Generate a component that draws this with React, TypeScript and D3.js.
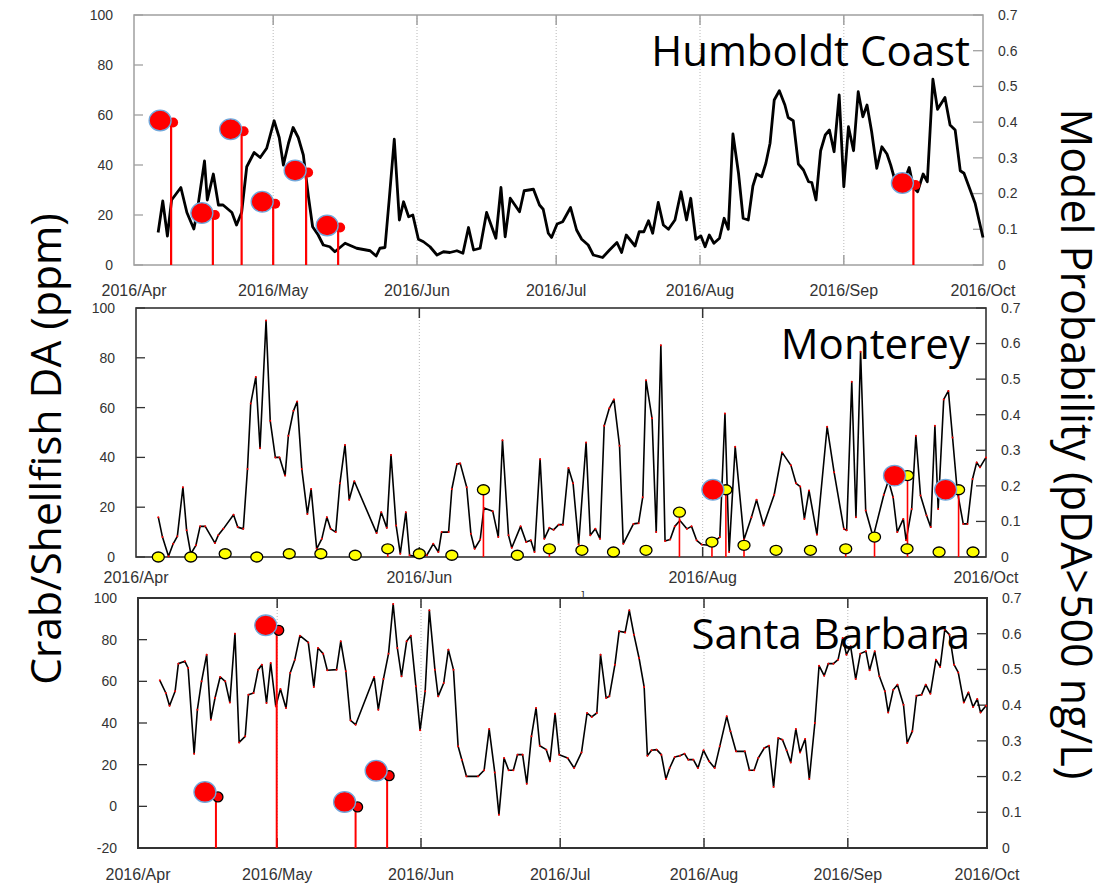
import React from 'react';
import * as d3 from 'd3';

// day offsets are counted from 2016/Apr/01, values in ppm (left axis)
const START = new Date(2016, 3, 1);
const END = new Date(2016, 9, 1);

const MONTH_LABELS = ['2016/Apr', '2016/May', '2016/Jun', '2016/Jul', '2016/Aug', '2016/Sep', '2016/Oct'];
const DA_TICKS = [0, 20, 40, 60, 80, 100];
const DA_TICKS_SB = [-20, 0, 20, 40, 60, 80, 100];
const PROB_TICKS = [0, 0.1, 0.2, 0.3, 0.4, 0.5, 0.6, 0.7];

type Pt = [number, number];

const humboldtLine: Pt[] = [
  [5.2, 13], [6.2, 25.6], [7.2, 11.6], [8.1, 26], [10.1, 31], [11.4, 21], [12.9, 14.4], [13.5, 20],
  [15.2, 41.6], [15.8, 26], [17.1, 36.4], [18.2, 24], [19.2, 24], [21.1, 21], [22.1, 16], [23.2, 21],
  [24.3, 39.3], [25.9, 45], [27.2, 43], [28.6, 46.7], [30.2, 57.7], [31.3, 51], [32.2, 40], [33.3, 48.7],
  [34.3, 55], [35.4, 51], [36.5, 44], [37.6, 27.3], [38.5, 15.3], [39.7, 12], [40.8, 8], [42.2, 7.3],
  [43.3, 5.3], [45.5, 8.7], [48, 6.7], [50.9, 5.7], [52.2, 3.6], [53, 6.7], [54.1, 7], [55, 26],
  [56.1, 50.3], [57.2, 18], [58.1, 25.3], [59.2, 19.3], [60.1, 20], [61.3, 10.3], [62.4, 9.3], [63.8, 7.3],
  [65.3, 4], [66.7, 5.3], [68.1, 5], [69.6, 5.7], [70.9, 4.7], [72.1, 15], [73.2, 6], [74.6, 6.7],
  [76, 21], [78, 10.7], [79.1, 31], [80, 11.3], [81.1, 26.7], [83.1, 21.3], [84.1, 29.7], [86.1, 30.3],
  [87.4, 24], [88.2, 22.3], [89.3, 12.7], [90, 11], [91.2, 16.4], [92.4, 17.3], [94.1, 23], [95.4, 14],
  [96.5, 10.3], [97.9, 8], [99, 4], [101, 3], [102.5, 6], [104.1, 9], [105.1, 5], [106.1, 12],
  [108, 7.6], [108.9, 13.3], [109.9, 13.3], [110.9, 17.7], [111.8, 12.7], [113, 25], [114.1, 16], [115.2, 14.3],
  [116.6, 18], [117.9, 29.3], [119.1, 18], [120, 26.7], [121.1, 10.3], [122.2, 11.6], [123.1, 7.3], [124, 12],
  [125, 8.7], [126.2, 10.7], [127.2, 18.7], [128.1, 14.3], [129.1, 52.4], [130.3, 36.7], [131.3, 18.7], [132.4, 18],
  [133.4, 31.6], [134.2, 36.4], [135.3, 35.3], [136.2, 40.7], [137.1, 48.7], [138, 66], [139.1, 69.7], [140.3, 64],
  [141, 59], [142.1, 57.7], [143.2, 40.4], [144.3, 38], [145.4, 33.3], [146.1, 33], [147, 26], [148, 45.7],
  [149, 52], [149.9, 54], [150.9, 45.3], [152, 68], [153, 31.3], [154, 55.3], [155.1, 45.7], [156.1, 69.3],
  [157.1, 59.3], [158, 64], [159, 53.3], [160.1, 38.7], [161.2, 47.3], [162.3, 44.4], [163.1, 40], [164, 34],
  [165.5, 31], [167.1, 39], [168, 31], [168.9, 29.3], [170.1, 36.4], [171, 33.3], [172.2, 74.3], [173.2, 62.3],
  [174.8, 67], [175.9, 56], [177, 54], [178.1, 37.7], [178.9, 36.7], [181.3, 24.7], [183, 11],
];
const humboldtSamples: Pt[] = [
  [8.0, 57], [17.0, 20], [23.2, 53.5], [30.0, 24.5], [37.1, 37], [44.0, 15], [168.0, 32],
];

const montereyLine: Pt[] = [
  [4.8, 16], [5.7, 8], [7, 0.3], [8, 5.3], [8.9, 8.3], [10.1, 28], [10.9, 10.7], [11.8, 1.3],
  [12.9, 4.7], [13.8, 12.3], [14.9, 12.3], [17, 5.6], [17.7, 8.7], [18.8, 11.3], [21, 17], [21.9, 12],
  [23.1, 11.3], [24, 35.3], [24.7, 61.6], [25.8, 72.3], [26.7, 43.7], [28, 95], [28.9, 54.7], [30, 40],
  [30.9, 40], [32.1, 32.7], [32.8, 48.7], [33.9, 58.7], [34.7, 62.4], [35.7, 35.3], [36.9, 17.3], [37.7, 27.3],
  [38.9, 3.3], [40, 7.3], [41.1, 16], [41.9, 11.3], [43, 10], [43.9, 29.6], [45, 45], [45.9, 23],
  [47, 30.4], [51.8, 9.6], [52.8, 18], [54, 11.7], [54.9, 41], [56, 12.7], [56.9, 1.3], [58.1, 18],
  [58.9, 0.7], [60.1, 0.3], [62.6, 0.7], [64, 5.3], [65.1, 2], [65.8, 10], [67.3, 10], [68, 27.3],
  [69.1, 37.3], [69.8, 37.6], [71.2, 28], [72.1, 9.3], [72.9, 3.3], [74.1, 7], [74.9, 19.7], [76.8, 18.4],
  [78, 8], [78.9, 46.9], [80.2, 8.7], [80.9, 3.7], [82.8, 12.3], [84, 6], [85, 6.7], [85.8, 2],
  [87, 39.3], [87.9, 7.3], [89, 11.7], [89.9, 10.9], [91, 13], [91.9, 13], [93.1, 35.7], [94.1, 29.6],
  [95.3, 5], [96.9, 46], [97.8, 8.7], [98.9, 11.3], [99.9, 7.3], [100.8, 52.7], [101.9, 59.7], [102.9, 63.3],
  [104.1, 44.7], [104.9, 5.3], [107.1, 13.3], [108.2, 13.6], [109.1, 24], [109.8, 71], [111.1, 55.7], [112, 10],
  [113, 85], [113.9, 6.4], [115, 7], [116, 12.3], [117.1, 14.7], [118.6, 11.3], [119.6, 12.3], [120.7, 6.7],
  [121.8, 5], [123.2, 4.7], [125, 7], [125.7, 8], [126.8, 57.6], [127.7, 2], [129, 44.3], [130.9, 7],
  [132.5, 16], [133.6, 23], [135.1, 12.7], [137.4, 25], [139.1, 42], [141, 36.8], [142.1, 29.6], [143, 28.3],
  [143.9, 15.3], [144.9, 26.7], [146.6, 9], [148.8, 52.3], [150.3, 34], [152.4, 11.3], [153, 10.7], [154.1, 70.4],
  [155, 16], [156, 82.4], [157.1, 18.7], [158.7, 8], [161, 25], [162, 30.7], [163, 24], [163.9, 10],
  [165.2, 15.3], [165.8, 6.7], [167, 19.3], [167.9, 48.7], [168.9, 24.7], [170.2, 16.7], [171.1, 12], [172, 52.7],
  [172.7, 19.3], [173.9, 63.3], [174.9, 66.7], [175.8, 48], [176.8, 26.7], [178.1, 13.3], [179, 13.3], [180.1, 31.3],
  [181, 38], [181.7, 36], [183, 40],
];
// [day, ppm, has stem]
const montereyModel: [number, number, number][] = [
  [4.8, 0, 0], [11.8, 0, 0], [19.2, 1.3, 0], [26.0, 0, 0], [33.0, 1.3, 0], [39.8, 1.3, 0], [47.2, 0.7, 0],
  [54.2, 3.3, 1], [61.0, 1.3, 0], [68.0, 0.7, 0], [74.8, 27, 1], [82.1, 0.7, 0], [89.0, 3.3, 1], [96.0, 2.7, 0],
  [102.8, 2, 0], [109.8, 2.7, 0], [117.0, 18, 1], [124.0, 6, 1], [127.0, 27, 1], [130.9, 4.7, 1], [137.8, 2.7, 0],
  [145.2, 2.7, 0], [152.8, 3.3, 1], [159.0, 8, 1], [166.1, 32.7, 1], [166.0, 3.3, 0], [172.9, 2, 0], [177.1, 27, 1],
  [180.2, 2, 0],
];
const montereySamples: Pt[] = [[127.0, 27], [166.1, 32.7], [177.1, 27]];

const santaBarbaraLine: Pt[] = [
  [4.7, 60.5], [6, 54.4], [6.8, 48.3], [8, 55.2], [8.7, 68.5], [10.1, 69.6], [10.8, 66.4], [12.1, 25.3],
  [12.8, 46.4], [13.7, 60], [14.8, 72.8], [15.7, 41.6], [16.6, 52], [17.7, 62.1], [18.8, 60], [19.8, 49.9],
  [20.9, 82.9], [21.8, 30.7], [23.1, 33.6], [23.8, 53.6], [24.9, 54.4], [25.9, 65.6], [26.7, 68], [27.7, 49.6],
  [28.6, 68.8], [29.7, 48], [30.7, 56.3], [31.9, 47.2], [32.8, 64], [33.8, 70.4], [34.9, 81.9], [36.7, 78.7],
  [37.9, 57.3], [38.8, 76], [39.9, 73.3], [40.8, 65.3], [42.8, 65.6], [43.7, 79.2], [44.8, 64.8], [45.8, 41.3],
  [46.9, 39.2], [50.9, 62.1], [51.8, 46.4], [52.9, 61.1], [54, 73.3], [55, 97.1], [55.9, 76], [56.8, 62.4],
  [57.9, 79.2], [58.8, 81.9], [59.9, 57.6], [60.8, 36.5], [61.9, 55.2], [62.8, 94.1], [64, 65.6], [64.7, 52.8],
  [65.9, 59.2], [66.9, 75.2], [68, 65.6], [69, 28.8], [69.8, 22.4], [70.8, 14.4], [73.3, 14.4], [74.6, 17.3],
  [75.7, 37.1], [76.9, 16.3], [77.8, -4], [78.9, 23.2], [79.9, 17.3], [80.9, 17.3], [81.8, 24.8], [82.9, 24.8],
  [83.8, 10.9], [84.8, 33.6], [85.8, 47.2], [86.6, 29.1], [88, 27.2], [88.8, 21.6], [89.9, 44.5], [90.8, 24.8],
  [92.6, 23.2], [94, 18.4], [95.6, 25.9], [96.8, 44.8], [97.8, 42.9], [98.9, 44.8], [99.7, 72.8], [100.9, 52],
  [101.6, 52.8], [102.8, 68], [103.7, 84], [105, 83.5], [105.9, 94.1], [106.9, 82.4], [108, 71.2], [109.1, 57.3],
  [109.8, 24.3], [110.7, 26.9], [111.8, 27.2], [112.8, 24.8], [113.8, 13.1], [114.6, 18.4], [115.7, 23.7], [116.8, 24.3],
  [117.8, 25.3], [118.6, 22.4], [119.7, 22.4], [120.7, 18.4], [121.9, 26.9], [123.1, 21.6], [124.3, 18.4], [125.4, 28.8],
  [126.9, 43.2], [127.7, 36], [128.9, 26.4], [130.8, 26.4], [131.8, 17.3], [132.8, 17.3], [133.7, 23.2], [135, 28],
  [136, 29.1], [137, 9.3], [138, 32.8], [138.9, 32], [139.8, 26.9], [140.7, 21.1], [141.8, 37.1], [142.7, 25.9],
  [143.8, 32.3], [144.7, 13.1], [145.9, 40], [146.8, 67.5], [147.9, 62.7], [148.8, 68.5], [149.9, 68.5], [150.9, 70.4],
  [151.9, 80.8], [152.7, 72.8], [153.6, 76.8], [154.7, 61.1], [155.7, 73.3], [156.9, 74.4], [157.7, 65.3], [158.8, 74.4],
  [159.8, 62.4], [161, 55.2], [161.7, 45.1], [162.8, 56], [163.7, 58.4], [165, 48.8], [165.8, 30.4], [166.9, 36],
  [167.8, 53.1], [168.9, 53.6], [169.8, 58.4], [170.8, 54.1], [172, 70.4], [172.9, 66.9], [173.9, 84.8], [174.9, 82.4],
  [175.9, 68], [176.8, 64.3], [178, 49.9], [179, 54.7], [180, 47.7], [180.9, 51.5], [181.6, 45.1], [182.8, 48.3],
];
const santaBarbaraSamples: Pt[] = [[16.8, 4.5], [29.9, 84.5], [46.9, -0.3], [53.7, 14.7]];

const dayToDate = (d: number) => new Date(START.getTime() + d * 864e5);
const MONTHS = d3.timeMonth.range(START, d3.timeDay.offset(END, 1));

const AXIS_FONT = '"Liberation Sans", Arial, sans-serif';
const TITLE_FONT = '"Open Sans", "Noto Sans", sans-serif';
const RED = '#ff0000';

interface PanelProps {
  box: { x0: number; x1: number; y0: number; y1: number };
  yDomain: [number, number];
  yTicks: number[];
  title: string;
  line: Pt[];
  lineWidth: number;
  vertexDots: boolean;
  frame: string;
  frameWidth: number;
  labelMonths: number[];
  gridMonths: number[];
  labelOffset: number;
  children?: (x: d3.ScaleTime<number, number>, y: d3.ScaleLinear<number, number>) => React.ReactNode;
}

function Panel(p: PanelProps) {
  const { x0, x1, y0, y1 } = p.box;
  const x = d3.scaleTime().domain([START, END]).range([x0, x1]);
  const y = d3.scaleLinear().domain(p.yDomain).range([y1, y0]);
  const prob = d3.scaleLinear().domain([0, 0.7]).range([y1, y0]);
  const path = d3.line<Pt>().x(d => x(dayToDate(d[0]))).y(d => y(d[1]))(p.line) || '';

  return (
    <g>
      {p.gridMonths.map(i => (
        <line key={'g' + i} x1={x(MONTHS[i])} x2={x(MONTHS[i])} y1={y0} y2={y1}
          stroke="#b8b8b8" strokeWidth={1} strokeDasharray="1,2" />
      ))}
      {p.gridMonths.map(i => (
        <g key={'t' + i}>
          <line x1={x(MONTHS[i])} x2={x(MONTHS[i])} y1={y1} y2={y1 - 10} stroke={p.frame} strokeWidth={1.5} />
          <line x1={x(MONTHS[i])} x2={x(MONTHS[i])} y1={y0} y2={y0 + 10} stroke={p.frame} strokeWidth={1.5} />
        </g>
      ))}
      <rect x={x0} y={y0} width={x1 - x0} height={y1 - y0} fill="none" stroke={p.frame} strokeWidth={p.frameWidth} />
      {p.yTicks.map(t => (
        <g key={'l' + t}>
          <line x1={x0} x2={x0 + 9} y1={y(t)} y2={y(t)} stroke={p.frame} strokeWidth={1.3} />
          <text x={x0 - 21} y={y(t)} dy="0.35em" textAnchor="end" fontSize={14} fill="#333" fontFamily={AXIS_FONT}>{t}</text>
        </g>
      ))}
      {PROB_TICKS.map(t => (
        <g key={'r' + t}>
          <line x1={x1} x2={x1 - 10} y1={prob(t)} y2={prob(t)} stroke={p.frame} strokeWidth={1.3} />
          <text x={x1 + 15} y={prob(t)} dy="0.35em" textAnchor="start" fontSize={14} fill="#333" fontFamily={AXIS_FONT}>{t}</text>
        </g>
      ))}
      {p.labelMonths.map(i => (
        <text key={'m' + i} x={x(MONTHS[i])} y={y1 + p.labelOffset} textAnchor="middle" fontSize={16}
          fill="#333" fontFamily={AXIS_FONT}>{MONTH_LABELS[i]}</text>
      ))}
      <path d={path} fill="none" stroke="#000" strokeWidth={p.lineWidth} strokeLinejoin="round" />
      {p.vertexDots && p.line.map((d, i) => (
        <circle key={'v' + i} cx={x(dayToDate(d[0]))} cy={y(d[1])} r={1} fill={RED} />
      ))}
      {p.children && p.children(x, y)}
      <text x={970} y={y0 + 51} textAnchor="end" fontSize={42} fill="#000" fontFamily={TITLE_FONT}>{p.title}</text>
    </g>
  );
}

function Sample({ cx, cy, base, dy, small, stem }: { cx: number; cy: number; base: number; dy: number; small: 'plain' | 'outlined'; stem: number }) {
  return (
    <g>
      <line x1={cx} x2={cx} y1={cy} y2={base} stroke={RED} strokeWidth={stem} />
      <circle cx={cx + 2} cy={cy} r={5} fill={RED} stroke={small === 'outlined' ? '#000' : 'none'} strokeWidth={1.3} />
      <ellipse cx={cx - 11} cy={cy + dy} rx={11} ry={10.3} fill={RED} stroke="#6fa8dc" strokeWidth={1.3} />
    </g>
  );
}

export default function App() {
  return (
    <svg width={1107} height={883} style={{ display: 'block', position: 'absolute', left: 0, top: 0, background: '#fff' }}>
      <rect width={1107} height={883} fill="#fff" />
      <Panel box={{ x0: 134, x1: 983, y0: 15, y1: 265 }} yDomain={[0, 100]} yTicks={DA_TICKS}
        title="Humboldt Coast" line={humboldtLine} lineWidth={2.8} vertexDots={false}
        frame="#a0a0a0" frameWidth={1.5} labelMonths={[0, 1, 2, 3, 4, 5, 6]} gridMonths={[1, 2, 3, 4, 5]} labelOffset={31}>
        {(x, y) => humboldtSamples.map((d, i) => (
          <Sample key={i} cx={x(dayToDate(d[0]))} cy={y(d[1])} base={y(0)} dy={-2} small="plain" stem={2.2} />
        ))}
      </Panel>
      <Panel box={{ x0: 136, x1: 986, y0: 308, y1: 557 }} yDomain={[0, 100]} yTicks={DA_TICKS}
        title="Monterey" line={montereyLine} lineWidth={1.6} vertexDots={true}
        frame="#333" frameWidth={1.6} labelMonths={[0, 2, 4, 6]} gridMonths={[2, 4]} labelOffset={26}>
        {(x, y) => (
          <g>
            {montereyModel.filter(d => d[2]).map((d, i) => (
              <line key={'s' + i} x1={x(dayToDate(d[0]))} x2={x(dayToDate(d[0]))} y1={y(d[1])} y2={y(0)}
                stroke={RED} strokeWidth={1.6} />
            ))}
            {montereyModel.map((d, i) => (
              <ellipse key={'y' + i} cx={x(dayToDate(d[0]))} cy={y(d[1])} rx={6} ry={5} fill="#ffff00" stroke="#000" strokeWidth={1.3} />
            ))}
            {montereySamples.map((d, i) => (
              <ellipse key={'r' + i} cx={x(dayToDate(d[0])) - 13} cy={y(d[1])} rx={11} ry={10.3} fill={RED} stroke="#6fa8dc" strokeWidth={1.3} />
            ))}
          </g>
        )}
      </Panel>
      <Panel box={{ x0: 138, x1: 987, y0: 598, y1: 848 }} yDomain={[-20, 100]} yTicks={DA_TICKS_SB}
        title="Santa Barbara" line={santaBarbaraLine} lineWidth={1.6} vertexDots={true}
        frame="#333" frameWidth={2} labelMonths={[0, 1, 2, 3, 4, 5, 6]} gridMonths={[1, 2, 3, 4, 5]} labelOffset={32}>
        {(x, y) => santaBarbaraSamples.map((d, i) => (
          <Sample key={i} cx={x(dayToDate(d[0]))} cy={y(d[1])} base={y(-20)} dy={-5} small="outlined" stem={2} />
        ))}
      </Panel>
      <text x={582} y={599} textAnchor="middle" fontSize={10} fill="#333" fontFamily={AXIS_FONT}>J</text>
      <text transform="translate(61,449) rotate(-90)" textAnchor="middle" fontSize={42.5} fill="#000" fontFamily={TITLE_FONT}>
        Crab/Shellfish DA (ppm)
      </text>
      <text transform="translate(1061,444) rotate(90)" textAnchor="middle" fontSize={43} fill="#000" fontFamily={TITLE_FONT}>
        Model Probability (pDA&gt;500 ng/L)
      </text>
    </svg>
  );
}
